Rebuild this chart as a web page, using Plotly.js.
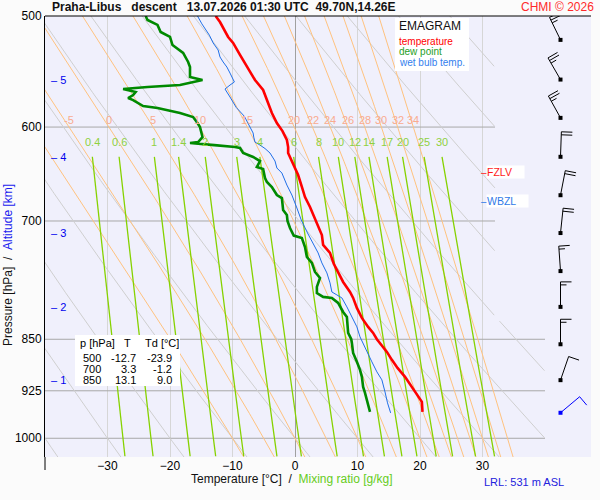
<!DOCTYPE html>
<html>
<head>
<meta charset="utf-8">
<script src="https://cdn.plot.ly/plotly-3.0.1.min.js"></script>
<style>html,body{margin:0;padding:0;background:#fbfbfb}</style>
</head>
<body>
<div id="emagram" style="width:600px;height:500px"></div>
<script>
// sounding, pressure [hPa] / temperature [°C]
const tempP = [500, 505, 517.5, 522.6, 533, 543.7, 555.4, 564.6, 574, 586.3, 596, 604, 612.9, 620, 626.1, 630.2, 636.5, 649.1, 662, 673, 684.1, 700, 706.9, 716.3, 728.1, 737.7, 751, 762.3, 773.7, 786.5, 794.2, 807.4, 820.7, 832.9, 841.2, 850, 867.8, 879.2, 890.9, 904.1, 919.1, 931.2, 942, 957.6];
const tempT = [-12.7, -12.0, -10.7, -9.9, -8.8, -7.7, -6.4, -5.1, -4.5, -3.7, -2.9, -2.0, -1.3, -1.1, -1.1, -0.8, -0.3, 0.5, 1.1, 1.6, 2.4, 3.3, 3.7, 4.3, 4.5, 5.6, 6.2, 6.9, 7.7, 8.8, 9.3, 9.9, 10.7, 11.7, 12.5, 13.1, 14.7, 15.5, 16.4, 17.6, 18.7, 19.5, 20.3, 20.4];

const dewP = [500, 503.3, 507.4, 513.3, 517.5, 524.4, 531.3, 539.2, 543.7, 552.7, 555.4, 560, 561.8, 562.8, 563.7, 566.5, 569.3, 572.1, 574, 579.6, 581.5, 586.3, 590.2, 596, 600, 609.9, 614.9, 615.9, 617, 618, 620, 621, 626.1, 630.2, 634.4, 640.7, 642.8, 652.3, 656.6, 662, 670.8, 674.1, 687.5, 693.2, 700, 708.1, 717, 719.8, 730.5, 742.6, 749.9, 761.1, 768.6, 780, 787.8, 792.9, 794.2, 800.8, 812.7, 819.4, 841.2, 850, 855.1, 869.2, 882.1, 893.8, 904.1, 919.1, 928.2, 938.9, 949.8, 957.6];
const dewT = [-23.9, -23.6, -22.0, -21.5, -20.0, -19.6, -17.9, -17.1, -16.8, -16.8, -14.8, -18.4, -23.6, -26.3, -27.5, -25.5, -25.9, -26.7, -25.9, -24.3, -22.0, -18.4, -16.3, -15.6, -15.2, -14.8, -15.5, -16.8, -14.0, -12.9, -9.6, -8.8, -8.3, -6.7, -5.6, -6.1, -5.1, -4.8, -4.5, -3.7, -2.9, -2.1, -1.9, -1.3, -1.2, -0.8, -0.2, 1.1, 1.6, 1.9, 2.7, 3.2, 4.0, 3.5, 3.5, 4.5, 5.9, 6.9, 7.7, 8.3, 8.5, 9.0, 9.1, 9.3, 9.9, 10.4, 10.7, 10.9, 11.2, 11.5, 11.7, 12.0];

const wetP = [500, 506.5, 516, 522.6, 528.7, 534.8, 539.2, 543.7, 549.1, 552.7, 557.2, 560, 563.7, 571.1, 581, 589.5, 600, 605.9, 610, 615, 618, 621.5, 626.1, 634.4, 641.7, 647, 659.9, 670.8, 685.2, 698.9, 713.9, 725.7, 737.7, 749.9, 762.3, 774.9, 786.5, 790.3, 794.2, 806, 819.4, 832.9, 846.7, 867.8, 882.1, 896.7, 908.6, 926.7, 943.5, 959.2];
const wetT = [-15.6, -14.9, -13.7, -13.1, -12.3, -12.0, -11.5, -10.9, -10.4, -10.1, -9.7, -10.4, -11.2, -10.4, -9.4, -8.1, -7.2, -6.7, -6.6, -6.4, -5.6, -4.8, -4.0, -3.2, -2.9, -2.1, -1.3, -0.5, 0.3, 1.0, 2.0, 2.9, 3.7, 4.3, 5.1, 5.6, 5.9, 6.7, 7.5, 8.3, 9.1, 9.9, 10.4, 11.5, 12.3, 13.1, 13.9, 14.4, 14.8, 15.3];

const tableP = [500, 700, 850];
const tableT = [-12.7, 3.3, 13.1];
const tableTd = [-23.9, -1.2, 9.0];

// wind barbs
const windP = [520, 555, 591, 630, 671, 714, 760, 806, 857, 909, 959];
const windDir = [334, 330, 331, 2, 11, 6, 356, 0, 0, 19, 50];
const windKt = [25, 25, 25, 20, 20, 20, 15, 15, 15, 10, 10];

const altKm = [1, 2, 3, 4, 5];
const altP = [909, 806, 714, 630, 555];
const fzlvP = 646;
const wbzlP = 677;

const pressureTicks = [500, 600, 700, 850, 925, 1000];
const tempTicks = [-30, -20, -10, 0, 10, 20, 30];
const dryTheta = [-40, -30, -20, -10, 0, 10, 20, 30, 40, 50, 60, 70, 80, 90, 100];
const moistThetaW = [-10, -5, 0, 5, 10, 15, 20, 22, 24, 26, 28, 30, 32, 34];
const mixRatios = [0.4, 0.6, 1, 1.4, 2, 3, 4, 6, 8, 10, 12, 14, 17, 20, 25, 30];

const FONT = 'Liberation Sans, Arial, sans-serif';
const P_TOP = 500, P_BOT = 1031.2;
const PLOT_W = 546, PLOT_H = 441, M_L = 45, M_T = 16;
const PX_PER_DEC = PLOT_H / (Math.log10(P_BOT) - Math.log10(P_TOP));

const px = x => (x - M_L) / PLOT_W;
const py = y => 1 - (y - M_T) / PLOT_H;
const rightLimit = p => (p < 825 ? 32 : 40);

// thermodynamics for the diagram lines
const es = t => 6.112 * Math.exp(17.67 * t / (t + 243.5));
const satMix = (p, t) => { const e = es(t); return 0.622 * e / (p - e); };
const moistRate = (p, t) => {
    const T = t + 273.15, r = satMix(p, t);
    const Rd = 287.04, cp = 1005.7, Lv = 2.501e6;
    return (Rd * T + Lv * r) / (p * (cp + Lv * Lv * r * 0.622 / (Rd * T * T)));
};
const rk4 = (p, t, dp) => {
    const k1 = moistRate(p, t);
    const k2 = moistRate(p + dp / 2, t + dp / 2 * k1);
    const k3 = moistRate(p + dp / 2, t + dp / 2 * k2);
    const k4 = moistRate(p + dp, t + dp * k3);
    return t + dp / 6 * (k1 + 2 * k2 + 2 * k3 + k4);
};
const moistAdiabat = thetaW => {
    const pts = [];
    let t = thetaW;
    for (let p = 1000; p >= 495; p -= 5) { pts.unshift([p, t]); t = rk4(p, t, -5); }
    t = rk4(1000, thetaW, 5);
    for (let p = 1005; p <= 1035; p += 5) { pts.push([p, t]); t = rk4(p, t, 5); }
    return pts;
};
const dewFromMix = (w, p) => {
    const l = Math.log(w * p / (622 + w) / 6.112);
    return 243.5 * l / (17.67 - l);
};

const collect = lines => {
    const x = [], y = [];
    lines.forEach(pts => {
        pts.forEach(([p, t]) => { x.push(t > rightLimit(p) ? null : t); y.push(p); });
        x.push(null); y.push(null);
    });
    return { x, y };
};

const dryLines = dryTheta.map(th => {
    const pts = [];
    for (let p = 495; p <= 1035; p += 2) pts.push([p, (th + 273.15) * Math.pow(p / 1000, 0.2857) - 273.15]);
    return pts;
});
const moistLines = moistThetaW.map(moistAdiabat);
const mixLines = mixRatios.map(w => {
    const pts = [];
    for (let p = 630; p <= 1035; p += 10) pts.push([p, dewFromMix(w, p)]);
    return pts;
});

const lineTrace = (d, color, width) => ({
    type: 'scatter', mode: 'lines', x: d.x, y: d.y, connectgaps: false,
    line: { color, width }, hoverinfo: 'skip'
});

const gridX = [], gridY = [];
pressureTicks.slice(1).forEach(p => { gridX.push(-40, rightLimit(p), null); gridY.push(p, p, null); });

// barbs drawn on x2 (pixel units) against the pressure axis
const STATION_X = 560.5, STAFF = 25, FULL = 11, HALF = 6, GAP = 3;
const pAt = (p, dy) => p * Math.pow(10, dy / PX_PER_DEC);
const barb = (p, dir, kt, out) => {
    const a = dir * Math.PI / 180;
    const ux = Math.sin(a), uy = -Math.cos(a);
    const vx = -uy, vy = ux;
    out.x.push(STATION_X, STATION_X + STAFF * ux, null);
    out.y.push(p, pAt(p, STAFF * uy), null);
    const feathers = [];
    for (let i = 0; i < Math.floor(kt / 10); i++) feathers.push(FULL);
    if (kt % 10 >= 5) feathers.push(HALF);
    feathers.forEach((len, i) => {
        const d = STAFF - i * GAP;
        const sx = STATION_X + d * ux, sy = d * uy;
        out.x.push(sx, sx + len * vx, null);
        out.y.push(pAt(p, sy), pAt(p, sy + len * vy), null);
    });
};
const barbsBlack = { x: [], y: [] }, barbsBlue = { x: [], y: [] };
windP.forEach((p, i) => barb(p, windDir[i], windKt[i], i === windP.length - 1 ? barbsBlue : barbsBlack));

const traces = [
    lineTrace({ x: gridX, y: gridY }, '#a8a8a8', 1),
    lineTrace(collect(dryLines), '#cfcfcf', 1),
    lineTrace(collect(moistLines), '#ffc27f', 1),
    lineTrace(collect(mixLines), '#86d200', 1.3),
    lineTrace({ x: dewT, y: dewP }, '#008a00', 2.6),
    lineTrace({ x: wetT, y: wetP }, '#1f6fe8', 1),
    lineTrace({ x: tempT, y: tempP }, '#ff0000', 2.6),
    Object.assign(lineTrace(barbsBlack, '#000000', 1), { xaxis: 'x2' }),
    Object.assign(lineTrace(barbsBlue, '#0000ff', 1), { xaxis: 'x2' }),
    {
        type: 'scatter', mode: 'markers', xaxis: 'x2', hoverinfo: 'skip',
        x: windP.map(() => STATION_X), y: windP,
        marker: { symbol: 'square', size: 4, color: windP.map((_, i) => i === windP.length - 1 ? '#0000ff' : '#000000') }
    }
];

const ann = [];
const txt = (o) => ann.push(Object.assign({ showarrow: false, font: { family: FONT, size: 11, color: '#000' } }, o));

txt({ xref: 'paper', yref: 'paper', x: px(50), y: py(7), xanchor: 'left', yanchor: 'middle',
    text: '<b>Praha-Libus\u00a0\u00a0\u00a0descent\u00a0\u00a0\u00a013.07.2026 01:30 UTC\u00a0\u00a049.70N,14.26E</b>',
    font: { family: FONT, size: 12, color: '#111' } });
txt({ xref: 'paper', yref: 'paper', x: px(596), y: py(7), xanchor: 'right', yanchor: 'middle',
    text: 'CHMI © 2026', font: { family: FONT, size: 12, color: '#ff2a2a' } });

// legend
txt({ xref: 'paper', yref: 'paper', x: px(397), y: py(26), xanchor: 'left', yanchor: 'middle', text: 'EMAGRAM', font: { family: FONT, size: 12, color: '#111' } });
txt({ xref: 'paper', yref: 'paper', x: px(397), y: py(41), xanchor: 'left', yanchor: 'middle', text: 'temperature', font: { family: FONT, size: 10, color: '#ff0000' } });
txt({ xref: 'paper', yref: 'paper', x: px(397), y: py(52), xanchor: 'left', yanchor: 'middle', text: 'dew point', font: { family: FONT, size: 10, color: '#1e9e1e' } });
txt({ xref: 'paper', yref: 'paper', x: px(397), y: py(63), xanchor: 'left', yanchor: 'middle', text: 'wet bulb temp.', font: { family: FONT, size: 10, color: '#3380ee' } });

// table
txt({ xref: 'paper', yref: 'paper', x: px(78), y: py(343), xanchor: 'left', yanchor: 'middle', text: 'p [hPa]' });
txt({ xref: 'paper', yref: 'paper', x: px(127.5), y: py(343), xanchor: 'center', yanchor: 'middle', text: 'T' });
txt({ xref: 'paper', yref: 'paper', x: px(143), y: py(343), xanchor: 'left', yanchor: 'middle', text: 'Td [°C]' });
tableP.forEach((p, i) => {
    const yy = py(358 + i * 11);
    txt({ xref: 'paper', yref: 'paper', x: px(103), y: yy, xanchor: 'right', yanchor: 'middle', text: String(p) });
    txt({ xref: 'paper', yref: 'paper', x: px(138), y: yy, xanchor: 'right', yanchor: 'middle', text: tableT[i].toFixed(1) });
    txt({ xref: 'paper', yref: 'paper', x: px(174), y: yy, xanchor: 'right', yanchor: 'middle', text: tableTd[i].toFixed(1) });
});

// altitude labels
altKm.forEach((km, i) => txt({ xref: 'x', yref: 'y', x: -39.4, y: Math.log10(altP[i]), xanchor: 'left', yanchor: 'middle',
    text: '\u2013 ' + km, font: { family: FONT, size: 11, color: '#0000ee' } }));

// moist adiabat labels at 600 hPa
moistThetaW.forEach((th, i) => {
    const pt = moistLines[i].find(d => d[0] === 600);
    if (pt[1] < -39) return;
    txt({ xref: 'x', yref: 'y', x: pt[1], y: Math.log10(593), xanchor: 'center', yanchor: 'middle',
        text: String(th), font: { family: FONT, size: 11, color: '#f9ab8f' } });
});
// mixing ratio labels
mixRatios.forEach(w => txt({ xref: 'x', yref: 'y', x: dewFromMix(w, 630), y: Math.log10(615), xanchor: 'center', yanchor: 'middle',
    text: String(w), font: { family: FONT, size: 11, color: '#8fd13f' } }));

// freezing / wet-bulb zero levels
[[fzlvP, 'FZLV', '#ff1a1a'], [wbzlP, 'WBZL', '#2f7ae8']].forEach(([p, label, color]) => {
    txt({ xref: 'x', yref: 'y', x: 29.4, y: Math.log10(p), xanchor: 'left', yanchor: 'middle', text: '\u2013', font: { family: FONT, size: 11, color } });
    txt({ xref: 'x', yref: 'y', x: 30.5, y: Math.log10(p), xanchor: 'left', yanchor: 'middle', text: label + '\u00a0\u00a0\u00a0\u00a0',
        bgcolor: '#ffffff', borderpad: 0, font: { family: FONT, size: 10.5, color } });
});

// axis titles and footer
txt({ xref: 'paper', yref: 'paper', x: px(8), y: py(265), xanchor: 'center', yanchor: 'middle', textangle: -90,
    text: 'Pressure [hPa]\u00a0\u00a0/\u00a0\u00a0<span style="color:#1a1aee">Altitude [km]</span>', font: { family: FONT, size: 12, color: '#111' } });
txt({ xref: 'paper', yref: 'paper', x: px(292), y: py(479), xanchor: 'center', yanchor: 'middle',
    text: 'Temperature [°C]\u00a0\u00a0/\u00a0\u00a0<span style="color:#66cc22">Mixing ratio [g/kg]</span>', font: { family: FONT, size: 12, color: '#111' } });
txt({ xref: 'paper', yref: 'paper', x: px(482), y: py(482), xanchor: 'left', yanchor: 'middle',
    text: 'LRL: 531 m ASL', font: { family: FONT, size: 11, color: '#2222dd' } });

const layout = {
    width: 600, height: 500,
    margin: { l: M_L, r: 600 - M_L - PLOT_W, t: M_T, b: 500 - M_T - PLOT_H },
    paper_bgcolor: '#fbfbfb', plot_bgcolor: '#f0f0fc',
    showlegend: false,
    font: { family: FONT, size: 12, color: '#000' },
    xaxis: {
        domain: [0, 500 / PLOT_W], range: [-40, 40], tickvals: tempTicks, ticks: '', ticklen: 0,
        showgrid: true, gridcolor: '#d6d6d6', gridwidth: 1,
        zeroline: true, zerolinecolor: '#a0a0a0', zerolinewidth: 1, showline: false,
        tickfont: { family: FONT, size: 12, color: '#000' }, fixedrange: true
    },
    xaxis2: { domain: [500 / PLOT_W, 1], range: [545, 591], visible: false, anchor: 'y', fixedrange: true },
    yaxis: {
        type: 'log', range: [Math.log10(P_BOT), Math.log10(P_TOP)], tickvals: pressureTicks,
        ticktext: pressureTicks.map(String), ticks: '', showgrid: false, zeroline: false,
        showline: true, linecolor: '#000', linewidth: 1,
        tickfont: { family: FONT, size: 12, color: '#000' }, fixedrange: true
    },
    shapes: [
        { type: 'line', xref: 'paper', yref: 'paper', x0: 0, x1: 1, y0: 1, y1: 1, line: { color: '#000', width: 1 } },
        { type: 'line', xref: 'paper', yref: 'paper', x0: 0, x1: 0, y0: 0, y1: py(470), line: { color: '#000', width: 1 } },
        { type: 'rect', xref: 'paper', yref: 'paper', x0: px(395), x1: px(469), y0: py(71), y1: py(18), fillcolor: '#ffffff', line: { width: 0 }, layer: 'above' },
        { type: 'rect', xref: 'paper', yref: 'paper', x0: px(75), x1: px(180), y0: py(386), y1: py(335), fillcolor: '#ffffff', line: { width: 0 }, layer: 'above' }
    ],
    annotations: ann
};

Plotly.newPlot('emagram', traces, layout, { displayModeBar: false, staticPlot: true });
</script>
</body>
</html>
